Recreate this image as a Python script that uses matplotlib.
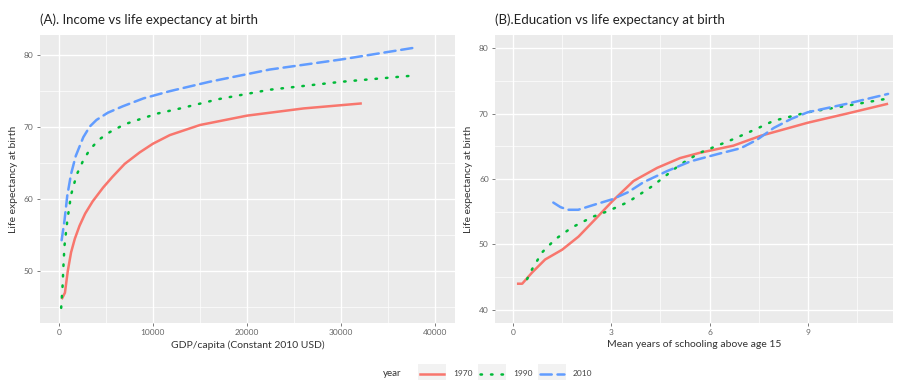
import matplotlib.pyplot as plt
from matplotlib.lines import Line2D
from matplotlib.patches import Rectangle

# Panel A: GDP per capita vs life expectancy (smoothed curves)
gdp_1970 = [300, 650, 950, 1300, 1700, 2200, 2800, 3600, 4700, 5700, 7000, 8600, 10000, 11800,
            15000, 20000, 26000, 32200]
le_gdp_1970 = [46.1, 47.0, 50.0, 52.6, 54.5, 56.3, 58.0, 59.7, 61.6, 63.1, 64.9, 66.5, 67.7,
               68.9, 70.3, 71.6, 72.6, 73.3]

gdp_1990 = [250, 400, 500, 600, 900, 1300, 1900, 2600, 3300, 4300, 5400, 7000, 8600, 10500,
            12900, 17000, 22400, 30000, 38000]
le_gdp_1990 = [44.9, 48.0, 51.0, 53.5, 57.0, 60.6, 63.4, 65.4, 66.9, 68.3, 69.3, 70.4, 71.1,
               71.9, 72.6, 73.9, 75.2, 76.3, 77.2]

gdp_2010 = [300, 600, 900, 1300, 1800, 2600, 3300, 4000, 5200, 6800, 9000, 11800, 16000,
            22400, 30000, 38100]
le_gdp_2010 = [54.3, 57.0, 60.5, 63.5, 66.0, 68.6, 70.1, 71.0, 72.0, 72.9, 74.0, 75.0, 76.3,
               78.0, 79.4, 81.1]

# Panel B: mean years of schooling vs life expectancy
school_1970 = [0.12, 0.28, 0.58, 0.98, 1.5, 2.0, 2.5, 3.03, 3.68, 4.4, 5.1, 5.7, 6.73, 7.56,
               9.0, 10.2, 11.45]
le_school_1970 = [44.0, 44.0, 45.7, 47.7, 49.2, 51.2, 53.8, 56.6, 59.7, 61.7, 63.2, 64.0,
                  65.1, 66.6, 68.6, 70.0, 71.5]

school_1990 = [0.43, 0.58, 0.89, 1.29, 1.8, 2.42, 2.9, 3.52, 4.25, 5.1, 5.7, 6.73, 7.45,
               7.96, 9.0, 10.2, 11.45]
le_school_1990 = [44.7, 46.2, 48.8, 50.8, 52.6, 54.2, 55.1, 56.5, 58.9, 62.2, 64.0, 66.1,
                  67.7, 68.9, 70.2, 71.2, 72.3]

school_2010 = [1.23, 1.45, 1.68, 1.99, 2.5, 3.03, 3.52, 3.98, 4.7, 5.42, 6.24, 6.95, 7.45,
               7.96, 8.5, 9.0, 10.2, 11.45]
le_school_2010 = [56.4, 55.7, 55.3, 55.3, 56.1, 56.9, 58.0, 59.5, 61.2, 62.7, 63.8, 64.7,
                  66.0, 67.8, 69.2, 70.2, 71.5, 73.0]

years = ['1970', '1990', '2010']
colors = ['#F8766D', '#00BA38', '#619CFF']
styles = ['-', (0, (0.6, 3.6)), (0, (4.5, 2.3))]

plt.rcParams['font.family'] = ['Lato', 'DejaVu Sans']

fig = plt.figure(figsize=(8.98, 3.80), dpi=100)
fig.patch.set_facecolor('white')

ax_a = fig.add_axes([40 / 898, 1 - 323 / 380, 415 / 898, 288 / 380])
ax_b = fig.add_axes([495 / 898, 1 - 323 / 380, 398 / 898, 288 / 380])


def style_axis(ax):
    ax.set_facecolor('#EBEBEB')
    for s in ax.spines.values():
        s.set_visible(False)
    ax.grid(which='major', color='white', linewidth=1.0)
    ax.grid(which='minor', color='white', linewidth=0.5)
    ax.set_axisbelow(True)
    ax.tick_params(which='major', length=2.5, width=0.6, color='#666666',
                   labelsize=6, labelcolor='#666666', pad=2)
    ax.tick_params(which='minor', length=0)


# Panel A
series_a = [(gdp_1970, le_gdp_1970), (gdp_1990, le_gdp_1990), (gdp_2010, le_gdp_2010)]
for (x, y), c, ls in zip(series_a, colors, styles):
    ax_a.plot(x, y, color=c, linestyle=ls, linewidth=1.8,
              dash_capstyle='round', solid_capstyle='butt', solid_joinstyle='round')
ax_a.set_xlim(-2000, 42100)
ax_a.set_ylim(42.8, 82.8)
ax_a.set_xticks([0, 10000, 20000, 30000, 40000])
ax_a.set_xticks([5000, 15000, 25000, 35000], minor=True)
ax_a.set_yticks([50, 60, 70, 80])
ax_a.set_yticks([45, 55, 65, 75], minor=True)
style_axis(ax_a)
ax_a.set_xlabel('GDP/capita (Constant 2010 USD)', fontsize=7.5, color='#333333', labelpad=3)
ax_a.set_ylabel('Life expectancy at birth', fontsize=7.5, color='#333333', labelpad=4)
ax_a.set_title('(A). Income vs life expectancy at birth', fontsize=9.5, loc='left',
               color='#222222', pad=8)

# Panel B
series_b = [(school_1970, le_school_1970), (school_1990, le_school_1990), (school_2010, le_school_2010)]
for (x, y), c, ls in zip(series_b, colors, styles):
    ax_b.plot(x, y, color=c, linestyle=ls, linewidth=1.8,
              dash_capstyle='round', solid_capstyle='butt', solid_joinstyle='round')
ax_b.set_xlim(-0.55, 11.6)
ax_b.set_ylim(38.0, 82.0)
ax_b.set_xticks([0, 3, 6, 9])
ax_b.set_xticks([1.5, 4.5, 7.5, 10.5], minor=True)
ax_b.set_yticks([40, 50, 60, 70, 80])
ax_b.set_yticks([45, 55, 65, 75], minor=True)
style_axis(ax_b)
ax_b.set_xlabel('Mean years of schooling above age 15', fontsize=7.5, color='#333333', labelpad=3)
ax_b.set_ylabel('Life expectancy at birth', fontsize=7.5, color='#333333', labelpad=4)
ax_b.set_title('(B).Education vs life expectancy at birth', fontsize=9.5, loc='left',
               color='#222222', pad=8)

# Legend at the bottom, drawn by hand: grey key boxes, line samples, labels
W, H = 898, 380
ly = 1 - 374 / H
fig.text(383 / W, ly, 'year', fontsize=7, color='#333333', va='center')
for i, (lab, c, ls) in enumerate(zip(years, colors, styles)):
    kx = 418 + 60 * i
    fig.patches.append(Rectangle((kx / W, 1 - 384 / H), 28 / W, 20 / H,
                                 transform=fig.transFigure, facecolor='#F2F2F2',
                                 edgecolor='none', zorder=0))
    fig.add_artist(Line2D([(kx + 2) / W, (kx + 26) / W], [ly, ly], color=c, linestyle=ls,
                          linewidth=1.8, dash_capstyle='round', transform=fig.transFigure))
    fig.text((kx + 35) / W, ly, lab, fontsize=6, color='#444444', va='center')

fig.savefig('out.png', dpi=100)
